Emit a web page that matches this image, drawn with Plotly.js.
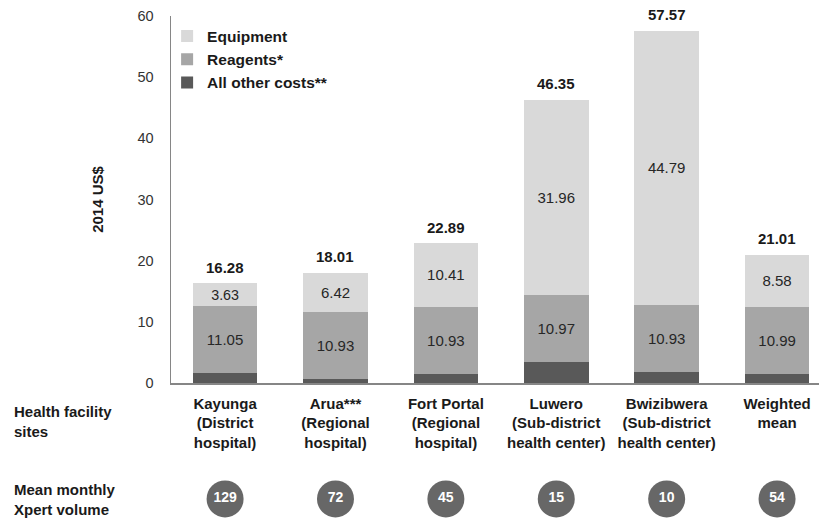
<!DOCTYPE html>
<html>
<head>
<meta charset="utf-8">
<script src="https://cdn.plot.ly/plotly-3.0.1.min.js"></script>
<style>html,body{margin:0;padding:0;background:#fff;}#chart{width:819px;height:518px;}</style>
</head>
<body>
<div id="chart"></div>
<script>
const sites = ["Kayunga<br>(District<br>hospital)", "Arua***<br>(Regional<br>hospital)", "Fort Portal<br>(Regional<br>hospital)", "Luwero<br>(Sub-district<br>health center)", "Bwizibwera<br>(Sub-district<br>health center)", "Weighted<br>mean"];
const equipment = [3.63, 6.42, 10.41, 31.96, 44.79, 8.58];
const reagents = [11.05, 10.93, 10.93, 10.97, 10.93, 10.99];
const otherCosts = [1.60, 0.66, 1.55, 3.42, 1.85, 1.44];
const totals = [16.28, 18.01, 22.89, 46.35, 57.57, 21.01];
const xpertVolume = [129, 72, 45, 15, 10, 54];

const FONT = "Arial, 'Liberation Sans', sans-serif";
const barW = 0.585;
const segFont = {family: FONT, size: 15, color: "#262626"};
const boldFont = (size, color) => ({family: FONT, size: size, color: color || "#1a1a1a", weight: "bold"});

const traces = [
  {type: "bar", name: "All other costs**", x: sites, y: otherCosts, width: barW,
   marker: {color: "#595959"}, textposition: "none", hoverinfo: "y"},
  {type: "bar", name: "Reagents*", x: sites, y: reagents, width: barW,
   marker: {color: "#a6a6a6"}, text: reagents.map(v => v.toFixed(2)), textposition: "inside",
   insidetextanchor: "middle", textfont: segFont, textangle: 0},
  {type: "bar", name: "Equipment", x: sites, y: equipment, width: barW,
   marker: {color: "#d9d9d9"}, text: equipment.map(v => v.toFixed(2)), textposition: "inside",
   insidetextanchor: "middle", textfont: segFont, textangle: 0},
  {type: "scatter", mode: "markers+text", x: sites, y: xpertVolume.map(() => 0.5), yaxis: "y2",
   text: xpertVolume.map(String), textposition: "middle center",
   marker: {size: 37, color: "#676767"},
   textfont: boldFont(14, "#ffffff"),
   showlegend: false, hoverinfo: "skip", cliponaxis: false}
];

const totalAnnotations = sites.map((s, i) => ({
  x: s, y: totals[i], xref: "x", yref: "y", text: totals[i].toFixed(2),
  showarrow: false, yanchor: "middle", yshift: 16, font: boldFont(15)
}));

const layout = {
  width: 819, height: 518,
  margin: {l: 171, r: 0, t: 16, b: 0},
  paper_bgcolor: "#fff", plot_bgcolor: "rgba(0,0,0,0)",
  barmode: "stack",
  font: {family: FONT, size: 14, color: "#1a1a1a"},
  xaxis: {
    type: "category", range: [-0.49, 5.38], anchor: "y",
    showline: true, linecolor: "#868686", linewidth: 1.5,
    ticks: "", showgrid: false, zeroline: false,
    tickfont: boldFont(15),
    ticklabelstandoff: 6
  },
  yaxis: {
    domain: [0.2689, 1], range: [0, 60], tickvals: [0, 10, 20, 30, 40, 50, 60],
    showline: true, linecolor: "#868686", linewidth: 1.5,
    ticks: "", showgrid: false, zeroline: false,
    tickfont: {family: FONT, size: 14.5, color: "#333333"},
    ticklabelstandoff: 13,
    title: {text: "2014 US$", font: boldFont(15), standoff: 30}
  },
  yaxis2: {domain: [0, 0.076], range: [0, 1], visible: false, showgrid: false, zeroline: false, fixedrange: true},
  showlegend: true,
  legend: {
    x: -0.006, y: 0.993, xanchor: "left", yanchor: "top",
    traceorder: "reversed", bgcolor: "rgba(0,0,0,0)",
    font: boldFont(15.5)
  },
  annotations: totalAnnotations.concat([
    {xref: "paper", yref: "paper", x: -159/648, y: 96.5/502, xanchor: "left", yanchor: "middle",
     align: "left", showarrow: false, text: "Health facility<br>sites", font: boldFont(15)},
    {xref: "paper", yref: "paper", x: -159/648, y: 19/502, xanchor: "left", yanchor: "middle",
     align: "left", showarrow: false, text: "Mean monthly<br>Xpert volume", font: boldFont(15)}
  ])
};

Plotly.newPlot("chart", traces, layout, {displayModeBar: false, staticPlot: true});
</script>
</body>
</html>
